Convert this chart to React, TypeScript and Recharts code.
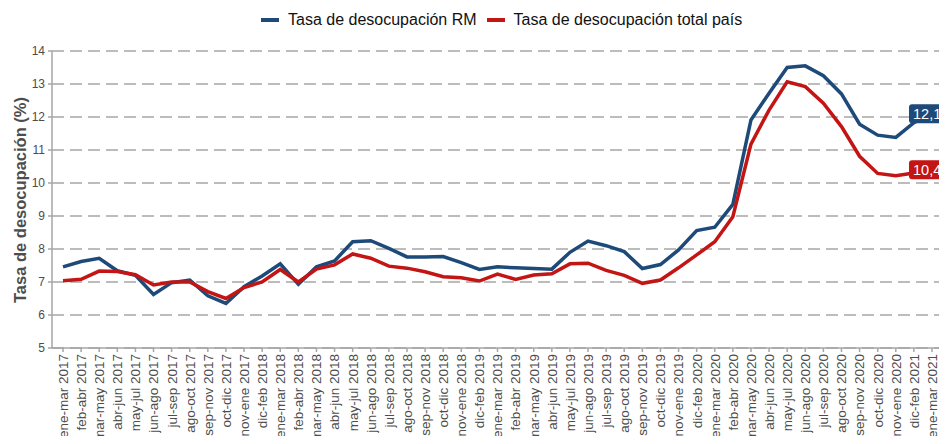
import React from 'react';
import { LineChart, Line, XAxis, YAxis, CartesianGrid, LabelList } from 'recharts';

const periodos = [
  'ene-mar 2017', 'feb-abr 2017', 'mar-may 2017', 'abr-jun 2017', 'may-jul 2017', 'jun-ago 2017',
  'jul-sep 2017', 'ago-oct 2017', 'sep-nov 2017', 'oct-dic 2017', 'nov-ene 2017', 'dic-feb 2018',
  'ene-mar 2018', 'feb-abr 2018', 'mar-may 2018', 'abr-jun 2018', 'may-jul 2018', 'jun-ago 2018',
  'jul-sep 2018', 'ago-oct 2018', 'sep-nov 2018', 'oct-dic 2018', 'nov-ene 2018', 'dic-feb 2019',
  'ene-mar 2019', 'feb-abr 2019', 'mar-may 2019', 'abr-jun 2019', 'may-jul 2019', 'jun-ago 2019',
  'jul-sep 2019', 'ago-oct 2019', 'sep-nov 2019', 'oct-dic 2019', 'nov-ene 2019', 'dic-feb 2020',
  'ene-mar 2020', 'feb-abr 2020', 'mar-may 2020', 'abr-jun 2020', 'may-jul 2020', 'jun-ago 2020',
  'jul-sep 2020', 'ago-oct 2020', 'sep-nov 2020', 'oct-dic 2020', 'nov-ene 2020', 'dic-feb 2021',
  'ene-mar 2021',
];

const tasaRM = [
  7.46, 7.62, 7.72, 7.34, 7.2, 6.62, 6.98, 7.06, 6.58, 6.35, 6.86, 7.18,
  7.55, 6.93, 7.46, 7.64, 8.22, 8.25, 8.02, 7.76, 7.76, 7.77, 7.59, 7.38,
  7.46, 7.43, 7.41, 7.39, 7.9, 8.24, 8.1, 7.92, 7.41, 7.53, 7.97, 8.56,
  8.66, 9.35, 11.91, 12.72, 13.5, 13.55, 13.25, 12.7, 11.78, 11.45, 11.38, 11.83,
  12.1,
];

const tasaPais = [
  7.04, 7.08, 7.33, 7.32, 7.22, 6.91, 7.0, 7.0, 6.71, 6.5, 6.83, 7.0,
  7.38, 7.0, 7.39, 7.52, 7.85, 7.72, 7.48, 7.42, 7.31, 7.16, 7.13, 7.03,
  7.24, 7.08, 7.21, 7.25, 7.55, 7.57, 7.35, 7.2, 6.96, 7.06, 7.43, 7.82,
  8.22, 8.98, 11.18, 12.21, 13.07, 12.92, 12.42, 11.71, 10.81, 10.29, 10.22, 10.3,
  10.4,
];

const yTicks = [5, 6, 7, 8, 9, 10, 11, 12, 13, 14];

const AZUL = '#1d4a78';
const ROJO = '#c41515';
const GRIS = '#4d4d4d';
const FONT = '"Liberation Sans", Arial, sans-serif';

const data = periodos.map((p, i) => ({ periodo: p, rm: tasaRM[i], pais: tasaPais[i] }));

const XTick = (props: any) => {
  const { x, y, payload } = props;
  return (
    <g transform={`translate(${x},${y})`}>
      <text transform="rotate(-90)" x={0} y={0} dy="0.36em" textAnchor="end" fill={GRIS} fontSize={13.5} fontFamily={FONT}>
        {payload.value}
      </text>
    </g>
  );
};

// etiqueta al final de cada serie
const makeEndLabel = (color: string) => (props: any) => {
  const { x, y, value, index } = props;
  if (index !== periodos.length - 1) return null;
  const txt = value.toFixed(1).replace('.', ',');
  const h = 19;
  return (
    <g>
      <rect x={x - 23} y={y - h / 2} width={50} height={h} rx={3} fill={color} />
      <text x={x - 19} y={y} dy="0.36em" fill="#fff" fontSize={14.5} fontFamily={FONT}>
        {txt}
      </text>
    </g>
  );
};

const YTitle = () => (
  <text x={20} y={200} dy="0.36em" transform="rotate(-90, 20, 200)" textAnchor="middle" fill={GRIS} fontSize={16.5} fontWeight="bold" fontFamily={FONT}>
    Tasa de desocupación (%)
  </text>
);

const LegendItem = ({ color, label }: { color: string; label: string }) => (
  <div style={{ display: 'flex', alignItems: 'center', marginRight: 10 }}>
    <div style={{ width: 18, height: 4, background: color, marginRight: 9 }} />
    <span>{label}</span>
  </div>
);

export default function App() {
  return (
    <div style={{ position: 'relative', width: 947, height: 444, margin: -8, background: '#fff', fontFamily: FONT }}>
      <div style={{ position: 'absolute', top: 11, left: 261, display: 'flex', fontSize: 16, color: '#111', zIndex: 1 }}>
        <LegendItem color={AZUL} label="Tasa de desocupación RM" />
        <LegendItem color={ROJO} label="Tasa de desocupación total país" />
      </div>
      <LineChart width={947} height={444} data={data} margin={{ top: 51, right: 4, left: 0, bottom: 0 }}>
        <CartesianGrid vertical={false} stroke="#a6a6a6" strokeWidth={1.5} strokeDasharray="12 6" />
        <XAxis
          dataKey="periodo"
          interval={0}
          height={96}
          padding={{ left: 11, right: 11 }}
          tick={<XTick />}
          tickSize={4}
          tickMargin={2}
          stroke="#a6a6a6"
          strokeWidth={1.5}
        />
        <YAxis
          width={52}
          domain={[5, 14]}
          ticks={yTicks}
          interval={0}
          tickSize={4}
          tickMargin={3}
          tick={{ fill: GRIS, fontSize: 12, fontFamily: FONT }}
          stroke="#a6a6a6"
          strokeWidth={1.5}
        />
        <Line type="linear" dataKey="rm" stroke={AZUL} strokeWidth={3.5} dot={false} isAnimationActive={false}>
          <LabelList dataKey="rm" content={makeEndLabel(AZUL)} />
        </Line>
        <Line type="linear" dataKey="pais" stroke={ROJO} strokeWidth={3.5} dot={false} isAnimationActive={false}>
          <LabelList dataKey="pais" content={makeEndLabel(ROJO)} />
        </Line>
        <YTitle />
      </LineChart>
    </div>
  );
}
